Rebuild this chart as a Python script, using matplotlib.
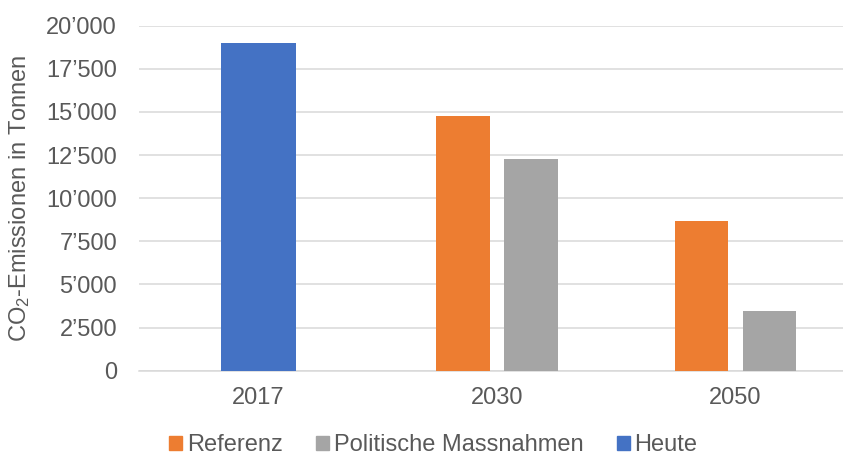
import matplotlib
matplotlib.use("Agg")
import matplotlib.pyplot as plt
import numpy as np
from matplotlib.ticker import FuncFormatter, MultipleLocator
from matplotlib.patches import Patch

plt.rcParams['font.family'] = ['Liberation Sans', 'DejaVu Sans']
plt.rcParams['mathtext.fontset'] = 'custom'
plt.rcParams['mathtext.rm'] = 'Liberation Sans'
plt.rcParams['mathtext.it'] = 'Liberation Sans:italic'

years = ['2017', '2030', '2050']
heute = [19000, 0, 0]
referenz = [0, 14750, 8700]
politik = [0, 12250, 3450]

c_blue = '#4472C4'
c_orange = '#ED7D31'
c_gray = '#A5A5A5'
txt = '#595959'
grid = '#D9D9D9'

fig = plt.figure(figsize=(8.43, 4.57), dpi=100)
ax = fig.add_axes([139.3/843, (457-370.7)/457, (854.6-139.3)/843, (370.7-25.7)/457])

x = np.arange(len(years))
ax.bar(x[:1], heute[:1], width=0.314, color=c_blue, zorder=3)
ax.bar(x[1:] - 0.143, referenz[1:], width=0.224, color=c_orange, zorder=3)
ax.bar(x[1:] + 0.143, politik[1:], width=0.224, color=c_gray, zorder=3)

ax.set_xlim(-0.5, 2.5)
ax.set_ylim(0, 20000)
ax.set_xticks(x)
ax.set_xticklabels(years)
ax.yaxis.set_major_locator(MultipleLocator(2500))
ax.yaxis.set_major_formatter(FuncFormatter(lambda v, p: f"{v:,.0f}".replace(',', '\u2019')))
ax.tick_params(axis='both', length=0, labelsize=17, colors=txt)
ax.tick_params(axis='y', pad=16)
ax.tick_params(axis='x', pad=12)
ax.grid(axis='y', color=grid, linewidth=1.1, zorder=0)
for s in ['top', 'right', 'left']:
    ax.spines[s].set_visible(False)
ax.spines['bottom'].set_color(grid)
ax.spines['bottom'].set_linewidth(1.1)
ax.spines['bottom'].set_zorder(1)

ax.set_ylabel(r'CO$_\mathregular{2}$-Emissionen in Tonnen', fontsize=17, color=txt)
ax.yaxis.set_label_coords(-0.150, 0.5)

handles = [Patch(color=c_orange, label='Referenz'),
           Patch(color=c_gray, label='Politische Massnahmen'),
           Patch(color=c_blue, label='Heute')]
fig.legend(handles=handles, loc='center', bbox_to_anchor=(0.514, 0.026), ncol=3,
           frameon=False, fontsize=17, labelcolor=txt, handlelength=0.55, handleheight=0.55,
           handletextpad=0.21, columnspacing=1.4, borderpad=0, borderaxespad=0)

fig.savefig('out.png', dpi=100)
